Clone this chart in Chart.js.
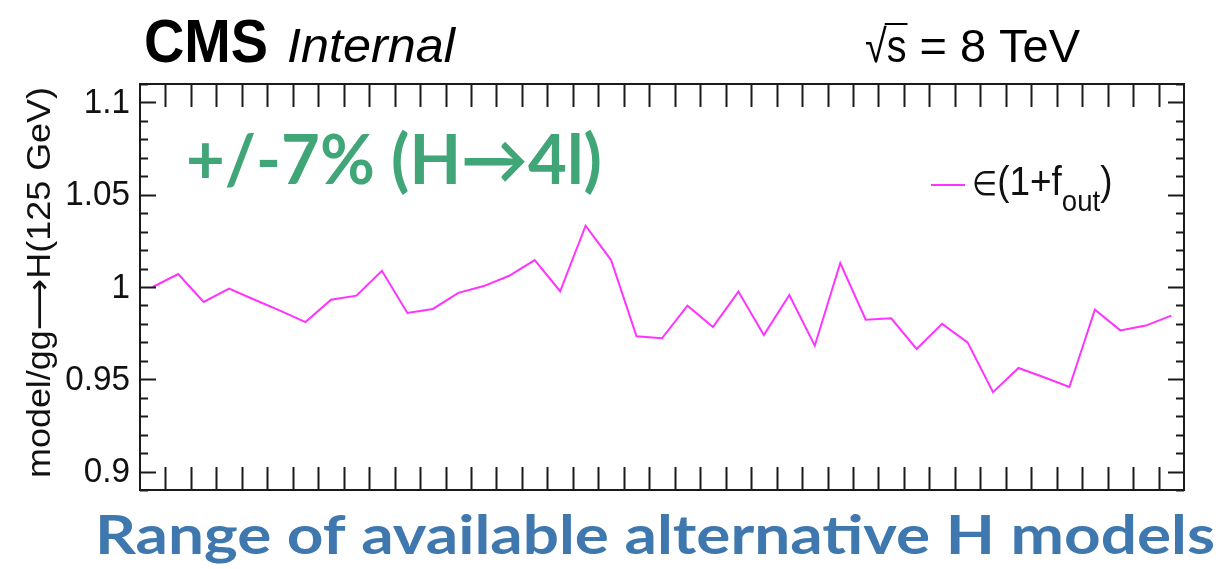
<!DOCTYPE html>
<html>
<head>
<meta charset="utf-8">
<script src="https://cdn.jsdelivr.net/npm/chart.js@4.4.1/dist/chart.umd.min.js"></script>
<style>
  html, body { margin: 0; padding: 0; background: #fff; }
</style>
</head>
<body>
<canvas id="myChart" width="1222" height="569"></canvas>
<script>
// model / gg->H(125 GeV) ratio, one value per model bin
const ratio = [
  1.000, 1.007, 0.9919, 0.9991, 0.9931, 0.9872, 0.9810, 0.9931, 0.9953, 1.0088,
  0.9859, 0.9881, 0.9968, 1.0005, 1.0061, 1.0146, 0.9977, 1.0332, 1.0146, 0.9733,
  0.9722, 0.9899, 0.9783, 0.9975, 0.9740, 0.9957, 0.9682, 1.0130, 0.9823, 0.9830,
  0.9664, 0.9800, 0.9700, 0.9430, 0.9561, 0.9511, 0.9458, 0.9877, 0.9765, 0.9791,
  0.9845,
];
const bins = ratio.map((_, i) => String(i + 1));
const yTicks = [0.9, 0.95, 1, 1.05, 1.1];
const yTickLabels = ['0.9', '0.95', '1', '1.05', '1.1'];
const yTitle = 'model/gg\u27F6H(125 GeV)';
const annotation = '+/-7% (H\u21924l)';
const footer = 'Range of available alternative H models';

const MAGENTA = '#ff33ff';
const FRAME = '#1a1a1a';
const HELV = '"Liberation Sans", Arial, "DejaVu Sans", sans-serif';

// draw text squeezed/stretched to a given width
function fitText(ctx, text, x, y, w, align) {
  const m = ctx.measureText(text).width;
  const s = w ? w / m : 1;
  ctx.save();
  ctx.translate(x, y);
  ctx.scale(s, 1);
  ctx.textAlign = 'left';
  ctx.fillText(text, align === 'right' ? -m : 0, 0);
  ctx.restore();
  return m * s;
}

const decorations = {
  id: 'decorations',
  afterDraw(chart) {
    const ctx = chart.ctx;
    const { left, right, top, bottom } = chart.chartArea;
    const xs = chart.scales.x, ys = chart.scales.y;
    const nBins = chart.data.labels.length;
    const bw = (right - left) / nBins;

    ctx.save();
    // frame
    ctx.strokeStyle = FRAME;
    ctx.lineWidth = 2;
    ctx.strokeRect(left, top, right - left, bottom - top);

    // x ticks at the bin edges, pointing inward
    ctx.beginPath();
    for (let k = 1; k < nBins; k++) {
      const x = Math.round(xs.getPixelForValue(k) - bw / 2) + 0.5;
      ctx.moveTo(x, top); ctx.lineTo(x, top + 23);
      ctx.moveTo(x, bottom); ctx.lineTo(x, bottom - 23);
    }
    // y ticks, major every 0.05 and minor every 0.01
    for (let k = 89; k <= 111; k++) {
      const y = Math.round(ys.getPixelForValue(k / 100)) + 0.5;
      const len = k % 5 === 0 ? 16 : 8;
      ctx.moveTo(left, y); ctx.lineTo(left + len, y);
      ctx.moveTo(right, y); ctx.lineTo(right - len, y);
    }
    ctx.stroke();

    // y tick labels (slightly condensed Helvetica look)
    ctx.fillStyle = '#111';
    ctx.font = '35px ' + HELV;
    ctx.textBaseline = 'middle';
    yTicks.forEach((v, i) => {
      const m = ctx.measureText(yTickLabels[i]).width;
      fitText(ctx, yTickLabels[i], 130, ys.getPixelForValue(v) + 1, m * 0.95, 'right');
    });

    // y axis title
    ctx.save();
    ctx.translate(41, 478);
    ctx.rotate(-Math.PI / 2);
    ctx.font = '33px ' + HELV;
    ctx.textBaseline = 'middle';
    fitText(ctx, yTitle, 0, 0, 391);
    ctx.restore();

    // header
    ctx.textBaseline = 'alphabetic';
    ctx.fillStyle = '#000';
    ctx.font = 'bold 62px ' + HELV;
    fitText(ctx, 'CMS', 144, 62, 124);
    ctx.font = 'italic 49px ' + HELV;
    fitText(ctx, 'Internal', 287, 62, 168);

    ctx.font = '46px ' + HELV;
    const sq = 0.86;
    let hx = 865;
    hx += fitText(ctx, '\u221A', hx, 62, ctx.measureText('\u221A').width * sq);
    const sW = fitText(ctx, 's', hx, 62, ctx.measureText('s').width * sq);
    ctx.lineWidth = 2;
    ctx.strokeStyle = '#000';
    ctx.beginPath();
    ctx.moveTo(hx - 2, 24); ctx.lineTo(hx + sW + 1, 24);
    ctx.stroke();
    hx += sW;
    fitText(ctx, ' = 8 TeV', hx, 62, 1080 - hx);

    // green annotation
    ctx.fillStyle = '#40a677';
    ctx.font = 'bold 68px Lato, "Open Sans", sans-serif';
    fitText(ctx, annotation, 186, 184, 416);

    // legend
    const ds = chart.data.datasets[0];
    ctx.strokeStyle = ds.borderColor;
    ctx.lineWidth = 2;
    ctx.beginPath();
    ctx.moveTo(931, 185); ctx.lineTo(965, 185);
    ctx.stroke();
    ctx.fillStyle = '#111';
    ctx.font = '34px "DejaVu Sans", sans-serif';
    let lx = 972;
    lx += fitText(ctx, '\u2208', lx, 195, ctx.measureText('\u2208').width * 0.85);
    ctx.font = '41px ' + HELV;
    lx += fitText(ctx, '(1+f', lx, 195, ctx.measureText('(1+f').width * 0.9);
    ctx.font = '30px ' + HELV;
    lx += fitText(ctx, 'out', lx, 211, ctx.measureText('out').width * 0.92);
    ctx.font = '41px ' + HELV;
    fitText(ctx, ')', lx, 195, ctx.measureText(')').width * 0.9);

    // footer
    ctx.fillStyle = '#3f78ae';
    ctx.font = 'bold 53px Lato, "Open Sans", sans-serif';
    fitText(ctx, footer, 95, 554, 1120);

    ctx.restore();
  }
};

const ctx = document.getElementById('myChart').getContext('2d');
new Chart(ctx, {
  type: 'line',
  data: {
    labels: bins,
    datasets: [{
      label: '\u2208(1+f_out)',
      data: ratio,
      borderColor: MAGENTA,
      borderWidth: 2,
      pointRadius: 0,
      tension: 0,
      fill: false,
    }],
  },
  options: {
    responsive: false,
    animation: false,
    devicePixelRatio: 1,
    layout: { padding: { left: 140, top: 84, right: 38, bottom: 79 } },
    scales: {
      x: { type: 'category', display: false, offset: true },
      y: { type: 'linear', display: false, min: 0.89, max: 1.11 },
    },
    plugins: {
      legend: { display: false },
      tooltip: { enabled: false },
    },
  },
  plugins: [decorations],
});
</script>
</body>
</html>
